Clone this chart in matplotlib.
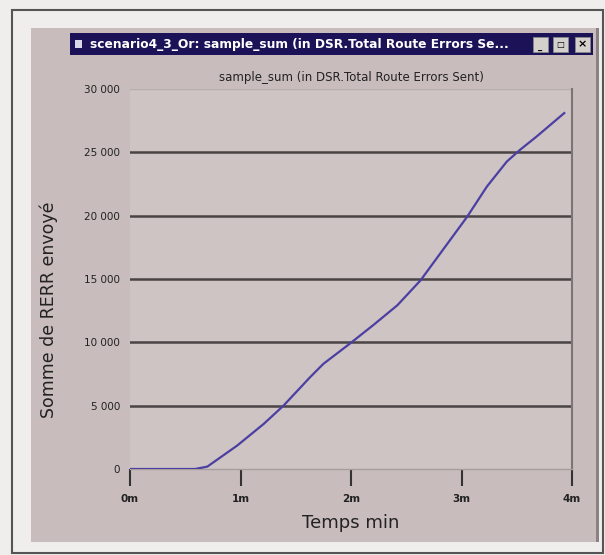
import matplotlib
matplotlib.use('Agg')
import matplotlib.pyplot as plt
from matplotlib.patches import Rectangle

# values (minutes, cumulative RERR sent)
time_min = [0.0, 0.59, 0.70, 0.97, 1.21, 1.39, 1.63, 1.75, 1.99, 2.20, 2.42,
            2.63, 2.84, 3.05, 3.23, 3.41, 3.53, 3.68, 3.93]
rerr_sum = [0, 0, 190, 1850, 3560, 5010, 7250, 8300, 9900, 11350, 12930,
            14900, 17400, 19900, 22300, 24270, 25200, 26250, 28100]

y_ticks = [0, 5000, 10000, 15000, 20000, 25000, 30000]
y_labels = ['0', '5 000', '10 000', '15 000', '20 000', '25 000', '30 000']
x_ticks = [0, 1, 2, 3, 4]
x_labels = ['0m', '1m', '2m', '3m', '4m']

W, H = 605, 555
fig = plt.figure(figsize=(W / 100, H / 100), dpi=100)
fig.patch.set_facecolor('#efeeec')


def box(x0, y0, x1, y1, z=-1, **kw):
    # pixel box (top-left origin) -> figure rectangle
    r = Rectangle((x0 / W, 1 - y1 / H), (x1 - x0) / W, (y1 - y0) / H,
                  transform=fig.transFigure, zorder=z, **kw)
    fig.add_artist(r)
    return r


def txt(x, y, s, **kw):
    fig.text(x / W, 1 - y / H, s, **kw)


# outer frame and window body
box(12, 10, 603, 553, facecolor='none', edgecolor='#555555', linewidth=1.5)
box(31, 28, 598, 542, facecolor='#c8bcbc', edgecolor='none')
box(596, 28, 599, 542, facecolor='#8a8282', edgecolor='none')

# title bar
box(70, 33, 593, 55, facecolor='#1c1258', edgecolor='none')
box(75, 40, 82, 48, facecolor='#d8d8e8', edgecolor='none')
txt(90, 44.5, 'scenario4_3_Or: sample_sum (in DSR.Total Route Errors Se...',
    color='white', fontsize=8.8, fontweight='bold', va='center')
for bx in (533, 553, 575):
    box(bx, 37, bx + 15, 52, facecolor='#d4d0cc', edgecolor='#888888', linewidth=0.6)
txt(540.5, 47, '_', fontsize=6, ha='center', va='center', fontweight='bold')
txt(560.5, 44.5, '□', fontsize=6, ha='center', va='center')
txt(582.5, 44.5, '×', fontsize=8, ha='center', va='center', fontweight='bold')

ax = fig.add_axes([130 / W, 1 - 469 / H, 442 / W, 380 / H])
ax.set_facecolor('#cec4c3')
ax.set_xlim(0, 4)
ax.set_ylim(0, 30000)

for v in y_ticks[1:-1]:
    ax.axhline(v, color='#4a4444', linewidth=1.8, zorder=1)
ax.axhline(30000, color='#b8adad', linewidth=1, zorder=1)

ax.plot(time_min, rerr_sum, color='#4b3fa3', linewidth=1.6, zorder=3)

for s in ('top', 'left'):
    ax.spines[s].set_visible(False)
ax.spines['right'].set_color('#7d7575')
ax.spines['right'].set_linewidth(1.5)
ax.spines['bottom'].set_color('#a89d9d')
ax.spines['bottom'].set_linewidth(1)

ax.set_yticks(y_ticks)
ax.set_yticklabels(y_labels, fontsize=7.5, color='#222222')
ax.tick_params(axis='y', length=0, pad=7)
ax.set_xticks(x_ticks)
ax.set_xticklabels(x_labels, fontsize=7.5, color='#222222', fontweight='bold')
ax.tick_params(axis='x', direction='out', length=12, width=1.5, color='#333333', pad=6)

ax.set_title('sample_sum (in DSR.Total Route Errors Sent)', fontsize=8.5,
             color='#222222', pad=6)
ax.set_xlabel('Temps min', fontsize=13, color='#222222')
ax.xaxis.set_label_coords(0.5, -(523 - 469) / 380)
ax.xaxis.label.set_va('center')
ax.set_ylabel('Somme de RERR envoyé', fontsize=12.5, color='#222222')
ax.yaxis.set_label_coords((49 - 130) / 442, (469 - 310) / 380)
ax.yaxis.label.set_va('center')

fig.savefig('out.png', dpi=100, facecolor=fig.get_facecolor())
